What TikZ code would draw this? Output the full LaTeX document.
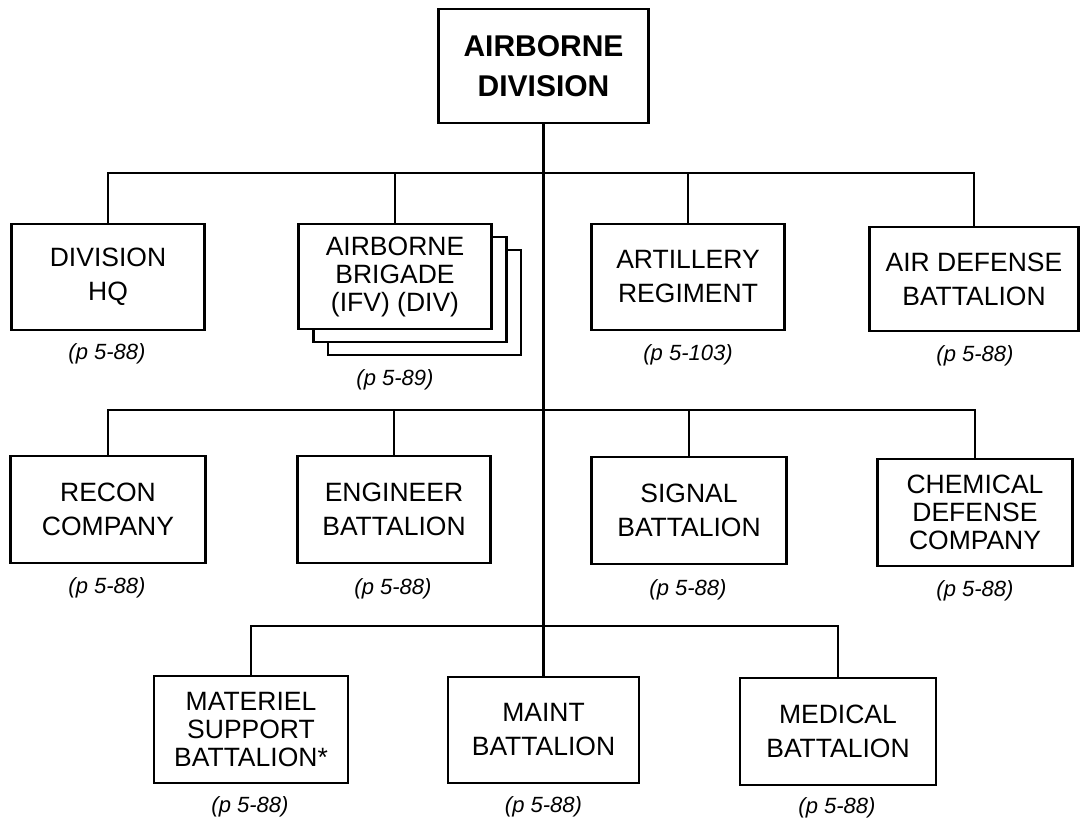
\documentclass[tikz,border=0pt]{standalone}
\usepackage{fontspec}
\setmainfont{Liberation Sans}
\begin{document}
\begin{tikzpicture}[x=1pt,y=-1pt,
  unit/.style={draw, line width=2.8pt, fill=white, align=center, inner sep=0pt,
    font=\fontsize{26.5}{34}\selectfont},
  unitthree/.style={unit, font=\fontsize{26.5}{28}\selectfont},
  topunit/.style={unit, font=\fontsize{30}{40}\selectfont\bfseries},
  pref/.style={inner sep=0pt, font=\fontsize{22}{24}\selectfont\itshape},
  conn/.style={line width=2.8pt}]
\useasboundingbox (0,0) rectangle (1081,821);

% top
\node[topunit, minimum width=210pt, minimum height=114pt] (top) at (543.5,66) {AIRBORNE\\DIVISION};

% junctions on the trunk
\coordinate (j1) at (top.south |- 0,173);
\coordinate (j2) at (top.south |- 0,410);
\coordinate (j3) at (top.south |- 0,626);

% row 1
\node[unit, minimum width=193pt, minimum height=106pt] (hq) at (108,277) {DIVISION\\HQ};
\node[unit, minimum width=193pt, minimum height=105pt] (brig3) at (424.5,302.5) {};
\node[unit, minimum width=193pt, minimum height=105pt] (brig2) at (410,289.5) {};
\node[unitthree, minimum width=193pt, minimum height=105pt] (brig) at (395,276.5) {AIRBORNE\\BRIGADE\\(IFV) (DIV)};
\node[unit, minimum width=193pt, minimum height=106pt] (art) at (688,277) {ARTILLERY\\REGIMENT};
\node[unit, minimum width=209pt, minimum height=104pt] (adb) at (974,279) {AIR DEFENSE\\BATTALION};

\node[pref] (hqp) at (107,354) {(p 5-88)};
\node[pref] (brigp) at (395,380) {(p 5-89)};
\node[pref] (artp) at (688,355) {(p 5-103)};
\node[pref] (adbp) at (975,356) {(p 5-88)};

% row 2
\node[unit, minimum width=195pt, minimum height=107pt] (recon) at (108,509.5) {RECON\\COMPANY};
\node[unit, minimum width=193pt, minimum height=107pt] (eng) at (394,509.5) {ENGINEER\\BATTALION};
\node[unit, minimum width=195pt, minimum height=107pt] (sig) at (689,510.5) {SIGNAL\\BATTALION};
\node[unitthree, minimum width=195pt, minimum height=107pt] (chem) at (975,512.5) {CHEMICAL\\DEFENSE\\COMPANY};

\node[pref] (reconp) at (107,588) {(p 5-88)};
\node[pref] (engp) at (393,589) {(p 5-88)};
\node[pref] (sigp) at (688,590) {(p 5-88)};
\node[pref] (chemp) at (975,591) {(p 5-88)};

% row 3
\node[unitthree, minimum width=194pt, minimum height=107pt] (mat) at (251,729.5) {MATERIEL\\SUPPORT\\BATTALION*};
\node[unit, minimum width=191pt, minimum height=106pt] (maint) at (543.5,730) {MAINT\\BATTALION};
\node[unit, minimum width=196pt, minimum height=107pt] (med) at (838,731.5) {MEDICAL\\BATTALION};

\node[pref] (matp) at (250,807) {(p 5-88)};
\node[pref] (maintp) at (543.5,807) {(p 5-88)};
\node[pref] (medp) at (837,808) {(p 5-88)};

% connectors
\draw[conn] (top.south) -- (j3);
\draw[conn] (hq.north) |- (j1) -| (adb.north);
\draw[conn] (brig.north) -- (brig.north |- j1);
\draw[conn] (art.north) -- (art.north |- j1);

\draw[conn] (recon.north) |- (j2) -| (chem.north);
\draw[conn] (eng.north) -- (eng.north |- j2);
\draw[conn] (sig.north) -- (sig.north |- j2);

\draw[conn] (mat.north) |- (j3) -| (med.north);
\draw[conn] (j3) -- (maint.north);
\end{tikzpicture}
\end{document}
